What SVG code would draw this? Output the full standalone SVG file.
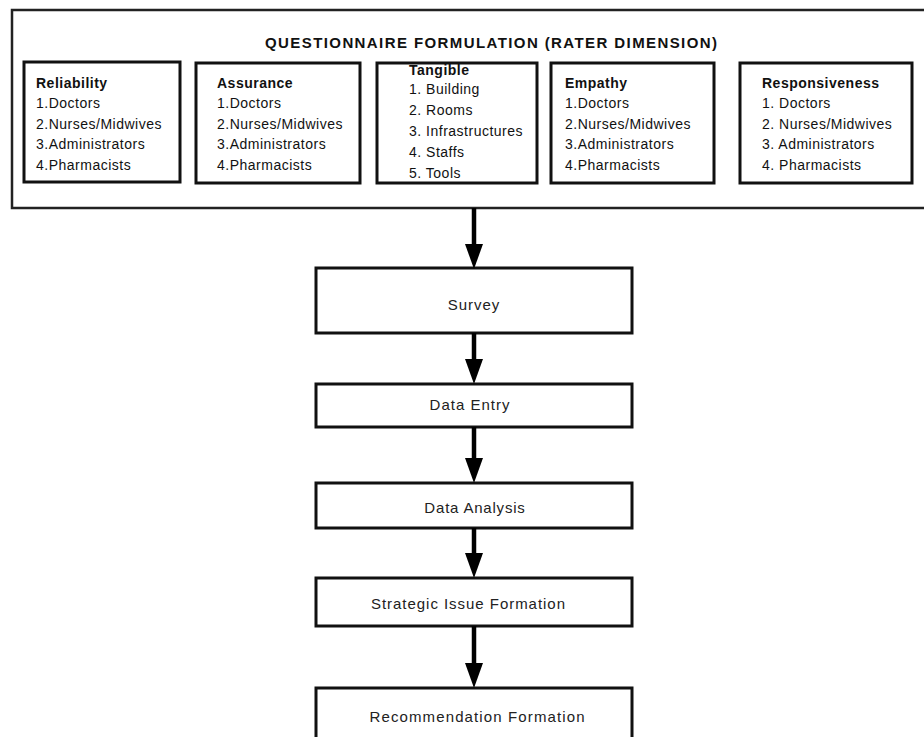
<svg xmlns="http://www.w3.org/2000/svg" width="924" height="737" viewBox="0 0 924 737">
<defs>
<style>
.box{fill:#fff;stroke:#111;stroke-width:3}
.outer{fill:#fff;stroke:#222;stroke-width:2.5}
.t{font-family:"Liberation Sans",Arial,sans-serif;font-size:14px;fill:#111;letter-spacing:0.5px}
.h{font-weight:bold}
.title{font-family:"Liberation Sans",Arial,sans-serif;font-size:15px;font-weight:bold;fill:#111}
.f{font-family:"Liberation Sans",Arial,sans-serif;font-size:15px;fill:#222;text-anchor:middle}
.c{stroke:#000;stroke-width:4.5;fill:none}
</style>
<marker id="ah" viewBox="0 0 18 25" refX="9" refY="0" markerWidth="18" markerHeight="25" markerUnits="userSpaceOnUse" orient="0">
<path d="M0,0 L18,0 L9,25 Z" fill="#000"/>
</marker>
</defs>
<g id="questionnaire">
<rect class="outer" x="12" y="10" width="930" height="198"/>
<text class="title" x="265" y="48" textLength="452" lengthAdjust="spacing">QUESTIONNAIRE FORMULATION (RATER DIMENSION)</text>
</g>
<g id="reliability">
<rect class="box" x="24" y="62" width="156" height="120"/>
<text class="t h" x="36" y="88">Reliability</text>
<text class="t" x="36" y="108">1.Doctors</text>
<text class="t" x="36" y="129">2.Nurses/Midwives</text>
<text class="t" x="36" y="149">3.Administrators</text>
<text class="t" x="36" y="170">4.Pharmacists</text>
</g>
<g id="assurance">
<rect class="box" x="196" y="63" width="164" height="120"/>
<text class="t h" x="217" y="88">Assurance</text>
<text class="t" x="217" y="108">1.Doctors</text>
<text class="t" x="217" y="129">2.Nurses/Midwives</text>
<text class="t" x="217" y="149">3.Administrators</text>
<text class="t" x="217" y="170">4.Pharmacists</text>
</g>
<g id="tangible">
<rect class="box" x="377" y="63" width="160" height="120"/>
<text class="t h" x="409" y="75">Tangible</text>
<text class="t" x="409" y="94">1. Building</text>
<text class="t" x="409" y="115">2. Rooms</text>
<text class="t" x="409" y="136">3. Infrastructures</text>
<text class="t" x="409" y="157">4. Staffs</text>
<text class="t" x="409" y="178">5. Tools</text>
</g>
<g id="empathy">
<rect class="box" x="551" y="63" width="163" height="120"/>
<text class="t h" x="565" y="88">Empathy</text>
<text class="t" x="565" y="108">1.Doctors</text>
<text class="t" x="565" y="129">2.Nurses/Midwives</text>
<text class="t" x="565" y="149">3.Administrators</text>
<text class="t" x="565" y="170">4.Pharmacists</text>
</g>
<g id="responsiveness">
<rect class="box" x="740" y="63" width="172" height="120"/>
<text class="t h" x="762" y="88">Responsiveness</text>
<text class="t" x="762" y="108">1. Doctors</text>
<text class="t" x="762" y="129">2. Nurses/Midwives</text>
<text class="t" x="762" y="149">3. Administrators</text>
<text class="t" x="762" y="170">4. Pharmacists</text>
</g>
<g id="survey">
<rect class="box" x="316" y="268" width="316" height="65"/>
<text class="f" x="474" y="310" letter-spacing="1">Survey</text>
</g>
<g id="data-entry">
<rect class="box" x="316" y="384" width="316" height="43"/>
<text class="f" x="470" y="410" letter-spacing="1">Data Entry</text>
</g>
<g id="data-analysis">
<rect class="box" x="316" y="483" width="316" height="45"/>
<text class="f" x="475" y="513" letter-spacing="0.8">Data Analysis</text>
</g>
<g id="strategic">
<rect class="box" x="316" y="578" width="316" height="48"/>
<text class="f" x="468" y="609" textLength="194" lengthAdjust="spacing">Strategic Issue Formation</text>
</g>
<g id="recommendation">
<rect class="box" x="316" y="688" width="316" height="70"/>
<text class="f" x="477" y="722" textLength="215" lengthAdjust="spacing">Recommendation Formation</text>
</g>
<g id="connectors">
<line class="c" x1="474" y1="208" x2="474" y2="244" marker-end="url(#ah)"/>
<line class="c" x1="474" y1="333" x2="474" y2="359" marker-end="url(#ah)"/>
<line class="c" x1="474" y1="427" x2="474" y2="458" marker-end="url(#ah)"/>
<line class="c" x1="474" y1="528" x2="474" y2="553" marker-end="url(#ah)"/>
<line class="c" x1="474" y1="626" x2="474" y2="663" marker-end="url(#ah)"/>
</g>
</svg>
